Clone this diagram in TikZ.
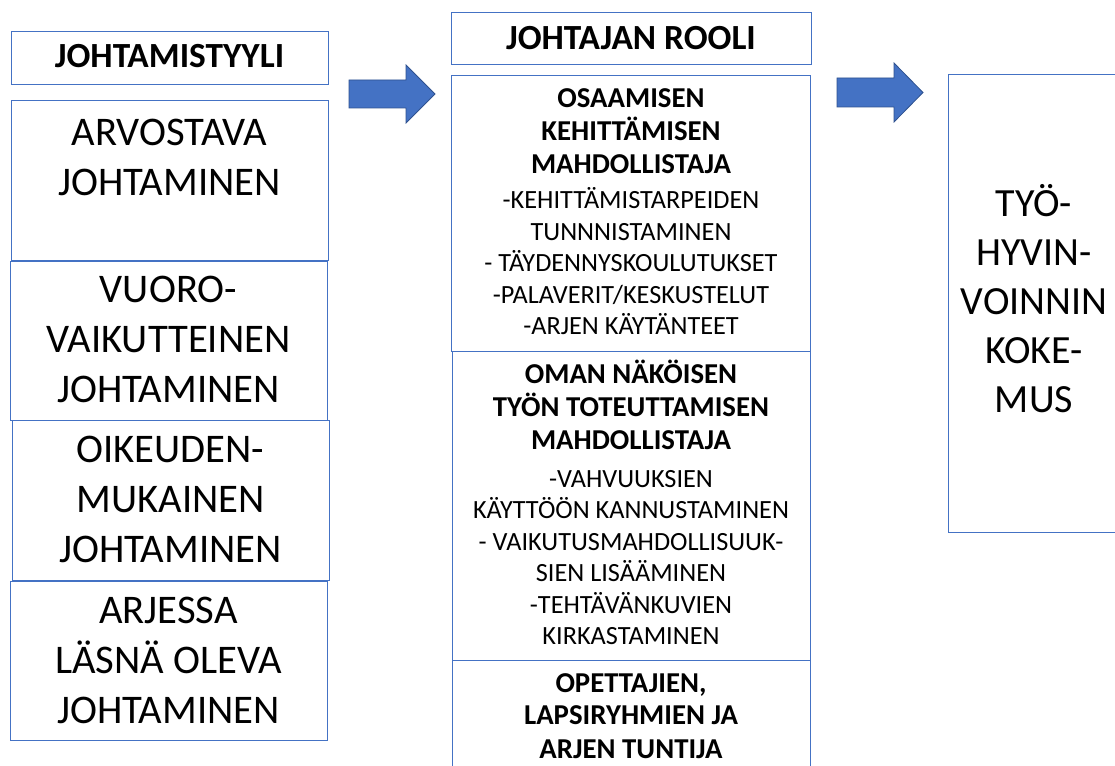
\documentclass[tikz,border=0pt]{standalone}
\usepackage{fontspec}
\setmainfont{Carlito}
\definecolor{boxline}{HTML}{4472C4}
\definecolor{arrowfill}{HTML}{4472C4}
\definecolor{arrowline}{HTML}{2F528F}
\tikzset{
  frame/.style={draw=boxline, line width=0.9pt, inner sep=0pt, anchor=north west},
  blockarrow/.style={fill=arrowfill, draw=arrowline, line width=0.6pt, line join=miter},
  bigtxt/.style={anchor=base, align=center, inner sep=0pt, font=\fontsize{30.5}{37.5}\selectfont},
  righttxt/.style={anchor=base, align=center, inner sep=0pt, font=\fontsize{30}{36.75}\selectfont},
  headtxt/.style={anchor=base, align=center, inner sep=0pt, font=\fontsize{26.5}{30}\selectfont\bfseries},
  roletitle/.style={anchor=base, align=center, inner sep=0pt, font=\fontsize{21.6}{24.75}\selectfont\bfseries},
  roleitems/.style={anchor=base, align=center, inner sep=0pt, font=\fontsize{19.7}{23.7}\selectfont},
  % box size given in pixels (1px = 0.75pt)
  size/.style n args={2}{minimum width=#1*0.75pt, minimum height=#2*0.75pt},
}
\begin{document}
\begin{tikzpicture}[x=0.75pt, y=-0.75pt]
\clip (0,0) rectangle (1115,766);
\fill[white] (0,0) rectangle (1115,766);

% left column: leadership styles
\node[frame, size={317}{53}] (styleHead) at (11,31) {};
\node[headtxt] (styleHeadTxt) at (169.5,68) {JOHTAMISTYYLI};

\node[frame, size={317}{160}] (styleA) at (11,100) {};
\node[frame, size={317}{159}] (styleB) at (10,261) {};
\node[frame, size={317}{160}] (styleC) at (12,420) {};
\node[frame, size={317}{159}] (styleD) at (10,581) {};

% multi-line labels are placed by the baseline of their last line
\node[bigtxt] (styleATxt) at (169.5,196) {ARVOSTAVA\\JOHTAMINEN};
\node[bigtxt] (styleBTxt) at (168.5,403) {VUORO-\\VAIKUTTEINEN\\JOHTAMINEN};
\node[bigtxt] (styleCTxt) at (170.5,563) {OIKEUDEN-\\MUKAINEN\\JOHTAMINEN};
\node[bigtxt] (styleDTxt) at (168.5,723) {ARJESSA\\LÄSNÄ OLEVA\\JOHTAMINEN};

% middle column: the leader's role
\node[frame, size={360}{52}] (roleHead) at (451,12) {};
\node[headtxt] (roleHeadTxt) at (631,50) {JOHTAJAN ROOLI};

\node[frame, size={359}{276}] (roleA) at (451,75) {};
\node[frame, size={358}{309}] (roleB) at (452,351) {};
\node[frame, size={358}{140}] (roleC) at (452,660) {};

\node[roletitle] (roleATitle) at (631,174) {OSAAMISEN\\KEHITTÄMISEN\\MAHDOLLISTAJA};
\node[roleitems] (roleAItems) at (631,335) {-KEHITTÄMISTARPEIDEN\\TUNNNISTAMINEN\\- TÄYDENNYSKOULUTUKSET\\-PALAVERIT/KESKUSTELUT\\-ARJEN KÄYTÄNTEET};

\node[roletitle] (roleBTitle) at (631,450) {OMAN NÄKÖISEN\\TYÖN TOTEUTTAMISEN\\MAHDOLLISTAJA};
\node[roleitems] (roleBItems) at (631,645) {-VAHVUUKSIEN\\KÄYTTÖÖN KANNUSTAMINEN\\- VAIKUTUSMAHDOLLISUUK-\\SIEN LISÄÄMINEN\\-TEHTÄVÄNKUVIEN\\KIRKASTAMINEN};

\node[roletitle] (roleCTitle) at (631,758) {OPETTAJIEN,\\LAPSIRYHMIEN JA\\ARJEN TUNTIJA};

% right column: outcome
\node[frame, size={172}{458}] (outcome) at (948,74) {};
\node[righttxt] (outcomeTxt) at (1034,413) {TYÖ-\\HYVIN-\\VOINNIN\\KOKE-\\MUS};

% block arrows between the columns
\draw[blockarrow] (349,80) -- (406,80) -- (406,65) -- (435,94) -- (406,123) -- (406,108) -- (349,108) -- cycle;
\draw[blockarrow] (837,78) -- (894,78) -- (894,63) -- (923,92.5) -- (894,122) -- (894,107) -- (837,107) -- cycle;
\end{tikzpicture}
\end{document}
